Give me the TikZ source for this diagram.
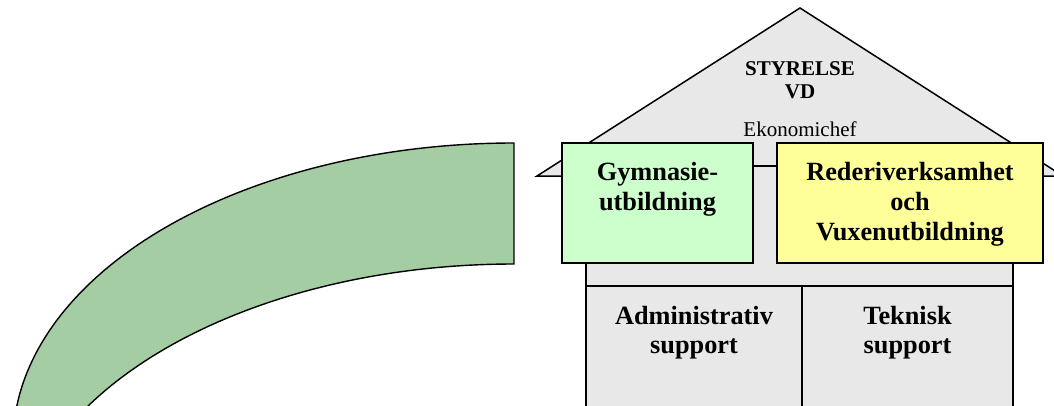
\documentclass[tikz,border=0pt]{standalone}
\usepackage{fontspec}
\setmainfont{Liberation Serif}
\definecolor{housegray}{HTML}{E8E8E8}
\definecolor{boxgreen}{HTML}{CCFFCC}
\definecolor{boxyellow}{HTML}{FFFF99}
\definecolor{arcgreen}{HTML}{A4CDA4}
\tikzset{
  housepart/.style={fill=housegray, draw=black, line width=1.5pt, line join=miter},
  unitbox/.style={draw=black, line width=1.5pt, rectangle, inner sep=0pt},
  bigtext/.style={font=\fontsize{26.3}{30}\selectfont\bfseries, anchor=base, inner sep=0pt},
  roofbold/.style={font=\fontsize{21}{24}\selectfont\bfseries, anchor=base, inner sep=0pt},
  roofplain/.style={font=\fontsize{21}{24}\selectfont, anchor=base, inner sep=0pt},
}
\begin{document}
\begin{tikzpicture}[x=1pt,y=1pt]
\useasboundingbox (0,0) rectangle (1054,405);
\begin{scope}
\clip (0,0) rectangle (1054,405);
% green curved band
\fill[arcgreen, draw=black, line width=1.4pt]
  (514,262) arc[start angle=90, end angle=186, x radius=501, y radius=300]
  -- ++(0,-60) -- (43.2,-120)
  -- (43.2,-56.4) arc[start angle=160, end angle=90, x radius=501, y radius=300]
  -- cycle;
% roof
\coordinate (roofL) at (537,229);
\coordinate (roofT) at (800,397);
\coordinate (roofR) at (1063,229);
\draw[housepart] (roofL) -- (roofT) -- (roofR) -- cycle;
% body
\coordinate (bodyTL) at (586,239);
\coordinate (bodyBR) at (1013,-20);
\draw[housepart] (bodyTL) rectangle (bodyBR);
\coordinate (divL) at (586,119);
\coordinate (divR) at (1013,119);
\coordinate (divT) at (802,119);
\coordinate (divB) at (802,-20);
\draw[line width=1.5pt] (divL) -- (divR);
\draw[line width=1.5pt] (divT) -- (divB);
\end{scope}
% unit boxes
\node[unitbox, fill=boxgreen, minimum width=191pt, minimum height=120pt] (gym) at (657.5,202) {};
\node[unitbox, fill=boxyellow, minimum width=266pt, minimum height=120pt] (red) at (910,202) {};
% texts
\node[roofbold] (sty) at (800,329) {STYRELSE};
\node[roofbold] (vd) at (800,306) {VD};
\node[roofplain] (eko) at (800,269) {Ekonomichef};
\node[bigtext] (gymA) at (657.5,225) {Gymnasie-};
\node[bigtext] (gymB) at (657.5,195) {utbildning};
\node[bigtext] (redA) at (910,225) {Rederiverksamhet};
\node[bigtext] (redB) at (910,195) {och};
\node[bigtext] (redC) at (910,164.5) {Vuxenutbildning};
\node[bigtext] (admA) at (694,81) {Administrativ};
\node[bigtext] (admB) at (694,52) {support};
\node[bigtext] (tekA) at (907.5,81) {Teknisk};
\node[bigtext] (tekB) at (907.5,52) {support};
\end{tikzpicture}
\end{document}
